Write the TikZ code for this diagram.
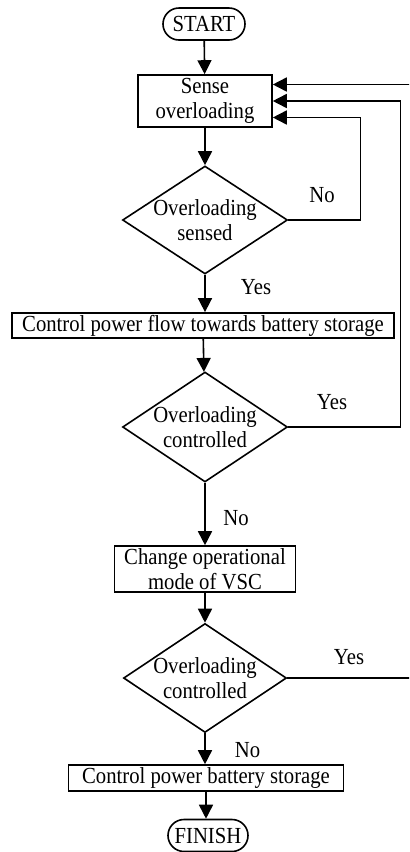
\documentclass[tikz,border=0pt]{standalone}
\usepackage{fontspec}
\setmainfont{Liberation Serif}[FakeStretch=0.9]
\usetikzlibrary{arrows.meta}
\usetikzlibrary{shapes.geometric}
\newcommand{\flowfont}{\fontsize{11.5pt}{12.5pt}\selectfont}
\tikzset{
	flowline/.style={line width=0.8pt},
	arr/.style={flowline,-{Triangle[length=7pt,width=7pt]}},
	procbox/.style={draw,line width=0.8pt,rectangle,align=center,inner sep=1pt,font=\flowfont},
	termbox/.style={procbox,rounded corners=8pt,minimum height=16pt},
	decision/.style={draw,line width=0.8pt,diamond,aspect=1.53,align=center,inner sep=-1pt,font=\flowfont},
	lbl/.style={font=\flowfont,inner sep=0pt}
}
\begin{document}
\begin{tikzpicture}[x=0.5pt,y=-0.5pt]
		\clip (0,0) rectangle (409,852);
		
		% main column
		\node[termbox,minimum width=41pt] (start) at (204,24) {START};
		\node[procbox,minimum width=67pt,minimum height=26pt] (sense) at (205,101) {Sense\\overloading};
		\node[decision,minimum width=82.5pt,minimum height=54pt] (d1) at (205,220) {Overloading\\sensed};
		\node[procbox,minimum width=191pt,minimum height=12.5pt] (flow) at (203,325.5) {Control power flow towards battery storage};
		\node[decision,minimum width=82.5pt,minimum height=55pt] (d2) at (205,427) {Overloading\\controlled};
		\node[procbox,minimum width=90.5pt,minimum height=23pt] (mode) at (205,569) {Change operational\\mode of VSC};
		\node[decision,minimum width=81.5pt,minimum height=54.5pt] (d3) at (205,678) {Overloading\\controlled};
		\node[procbox,minimum width=137.5pt,minimum height=13pt] (batt) at (206,778) {Control power battery storage};
		\node[termbox,minimum width=40pt] (finish) at (208,835.5) {FINISH};
		
		% downward arrows
		\draw[arr] (start) -- (sense);
		\draw[arr] (sense) -- (d1);
		\draw[arr] (d1) -- (d1|-flow.north);
		\draw[arr] (flow) -- (d2);
		\draw[arr] (d2) -- (mode);
		\draw[arr] (mode) -- (d3);
		\draw[arr] (d3) -- (d3|-batt.north);
		\draw[arr] (batt) -- (batt|-finish.north);
		
		% feedback loops to the sensing box
		\coordinate (edge) at (412,678);
		\draw[arr] (d1.east) -- ++(72,0) |- ([yshift=-8.25pt]sense.east);
		\draw[arr] (d2.east) -- ++(112,0) |- (sense.east);
		\draw[arr] (d3.east) -- (edge) |- ([yshift=8.25pt]sense.east);
		
		% branch labels
		\node[lbl] (no1) at (322,195) {No};
		\node[lbl] (yes1) at (256,287) {Yes};
		\node[lbl] (yes2) at (332,402) {Yes};
		\node[lbl] (no2) at (236,518) {No};
		\node[lbl] (yes3) at (349,657) {Yes};
		\node[lbl] (no3) at (247.5,750) {No};
	\end{tikzpicture}
\end{document}
